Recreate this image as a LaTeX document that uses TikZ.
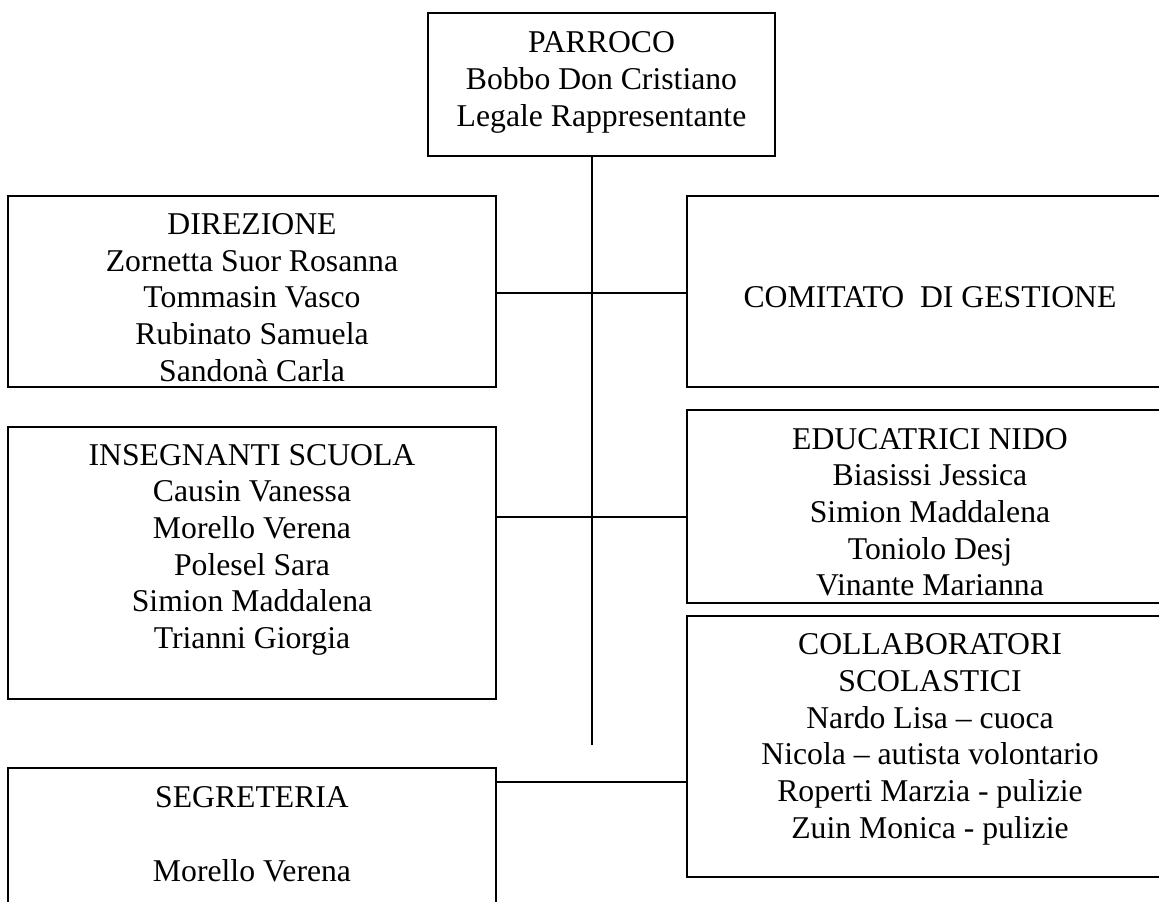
\documentclass[tikz,border=0pt]{standalone}
\usepackage{fontspec}
\setmainfont{Liberation Serif}

\begin{document}
\begin{tikzpicture}[x=1pt, y=-1pt,
        box/.style={draw, line width=1.8pt, inner sep=0pt},
        txt/.style={inner sep=0pt, align=center, anchor=base, font=\fontsize{31.7}{36.7}\selectfont},
        link/.style={line width=1.8pt}]
        \useasboundingbox (0, 0) rectangle (1159, 902);

        % Nodes
        \node[box, minimum width=347, minimum height=143] at (601.5, 84.5)  (parroco)       {};
        \node[box, minimum width=488, minimum height=191] at (252, 291.5)   (direzione)     {};
        \node[box, minimum width=486, minimum height=191] at (930, 291.5)   (comitato)      {};
        \node[box, minimum width=488, minimum height=272] at (252, 563)     (insegnanti)    {};
        \node[box, minimum width=486, minimum height=193] at (930, 506.5)   (educatrici)    {};
        \node[box, minimum width=486, minimum height=261] at (930, 746.5)   (collaboratori) {};
        \node[box, minimum width=488, minimum height=162] at (252, 849)     (segreteria)    {};

        % Texts (base = last line)
        \node[txt] at ([yshift=-114pt]parroco.north)       (parrocoT)       {PARROCO\\Bobbo Don Cristiano\\Legale Rappresentante};
        \node[txt] at ([yshift=-186pt]direzione.north)     (direzioneT)     {DIREZIONE\\Zornetta Suor Rosanna\\Tommasin Vasco\\Rubinato Samuela\\Sandonà Carla};
        \node[txt] at ([yshift=-112pt]comitato.north)      (comitatoT)      {COMITATO\ \ DI GESTIONE};
        \node[txt] at ([yshift=-222.5pt]insegnanti.north)  (insegnantiT)    {INSEGNANTI SCUOLA\\Causin Vanessa\\Morello Verena\\Polesel Sara\\Simion Maddalena\\Trianni Giorgia};
        \node[txt] at ([yshift=-186.7pt]educatrici.north)  (educatriciT)    {EDUCATRICI NIDO\\Biasissi Jessica\\Simion Maddalena\\Toniolo Desj\\Vinante Marianna};
        \node[txt] at ([yshift=-223pt]collaboratori.north) (collaboratoriT) {COLLABORATORI\\SCOLASTICI\\Nardo Lisa – cuoca\\Nicola – autista volontario\\Roperti Marzia - pulizie\\Zuin Monica - pulizie};
        \node[txt] at ([yshift=-114pt]segreteria.north)    (segreteriaT)    {SEGRETERIA\\[36.7pt]Morello Verena};

        % Links
        \coordinate (trunkend) at (592, 745);
        \draw[link] ([xshift=-9.5pt]parroco.south) -- (trunkend);
        \draw[link] ([yshift=-1.5pt]direzione.east) coordinate (l1) -- (l1 -| comitato.west);
        \draw[link] ([yshift=46pt]insegnanti.east) coordinate (l2) -- (l2 -| educatrici.west);
        \draw[link] ([yshift=67pt]segreteria.east) coordinate (l3) -- (l3 -| collaboratori.west);

    \end{tikzpicture}
\end{document}
